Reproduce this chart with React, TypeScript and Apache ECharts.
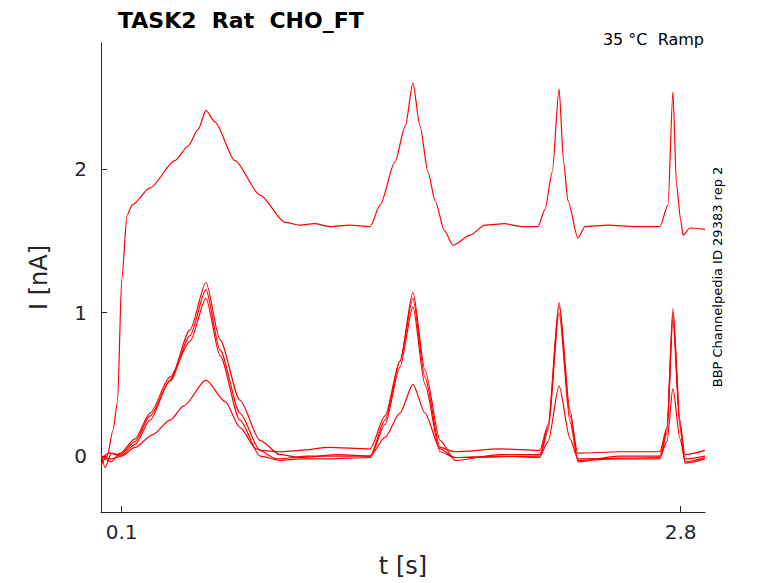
import { useEffect, useRef } from 'react';
import * as echarts from 'echarts';

const xTicks = [0.1, 2.8];
const yTicks = [0, 1, 2];

// [t (s), I (nA)]
const traceTop: [number, number][] = [
  [0, -0.06], [0.03, 0.0], [0.058, 0.18], [0.08, 0.38], [0.1, 1.23], [0.126, 1.68], [0.15, 1.75],
  [0.237, 1.87], [0.357, 2.06], [0.42, 2.16], [0.47, 2.28], [0.507, 2.41], [0.55, 2.33], [0.647, 2.06],
  [0.768, 1.82], [0.889, 1.63], [0.961, 1.61], [1.03, 1.62], [1.106, 1.6], [1.2, 1.61], [1.3, 1.6],
  [1.348, 1.75], [1.42, 2.05], [1.47, 2.3], [1.507, 2.6], [1.541, 2.3], [1.58, 1.98], [1.614, 1.78], [1.66, 1.57], [1.7, 1.47],
  [1.783, 1.54], [1.855, 1.61], [1.95, 1.62], [2.03, 1.6], [2.111, 1.6], [2.145, 1.72], [2.18, 1.98],
  [2.213, 2.56], [2.235, 2.05], [2.256, 1.78], [2.304, 1.52], [2.338, 1.6], [2.45, 1.61], [2.58, 1.6],
  [2.7, 1.6], [2.739, 1.75], [2.763, 2.54], [2.78, 1.9], [2.8, 1.65], [2.812, 1.54], [2.845, 1.59], [2.918, 1.58],
];
const traceA: [number, number][] = [
  [0, 0.03], [0.02, -0.08], [0.05, 0.02], [0.092, 0.0], [0.164, 0.08], [0.237, 0.25], [0.333, 0.53],
  [0.43, 0.88], [0.507, 1.21], [0.575, 0.81], [0.671, 0.39], [0.768, 0.11], [0.865, 0.01],
  [0.961, -0.01], [1.15, 0.01], [1.3, 0.0], [1.372, 0.25], [1.444, 0.66], [1.507, 1.14],
  [1.565, 0.6], [1.638, 0.11], [1.71, -0.03], [1.928, 0.01], [2.12, 0.01], [2.16, 0.2],
  [2.213, 1.07], [2.266, 0.32], [2.304, -0.04], [2.5, 0.0], [2.7, 0.0], [2.734, 0.18],
  [2.763, 1.03], [2.797, 0.25], [2.821, -0.04], [2.918, -0.01],
];
const traceB: [number, number][] = [
  [0, -0.02], [0.04, 0.02], [0.092, 0.01], [0.164, 0.1], [0.237, 0.28], [0.333, 0.52],
  [0.43, 0.84], [0.507, 1.16], [0.575, 0.74], [0.671, 0.3], [0.768, 0.04], [0.865, 0.03],
  [0.961, 0.04], [1.1, 0.06], [1.3, 0.05], [1.372, 0.28], [1.444, 0.66], [1.507, 1.1],
  [1.565, 0.55], [1.638, 0.06], [1.71, 0.03], [1.928, 0.05], [2.12, 0.04], [2.16, 0.22],
  [2.213, 1.05], [2.266, 0.28], [2.304, 0.02], [2.5, 0.03], [2.7, 0.03], [2.734, 0.2],
  [2.763, 1.0], [2.797, 0.22], [2.821, 0.01], [2.918, 0.04],
];
const traceC: [number, number][] = [
  [0, 0.0], [0.05, -0.04], [0.092, 0.02], [0.164, 0.12], [0.237, 0.3], [0.333, 0.55],
  [0.43, 0.8], [0.507, 1.1], [0.575, 0.7], [0.671, 0.25], [0.768, 0.0], [0.865, -0.03],
  [0.961, -0.02], [1.1, -0.02], [1.3, -0.01], [1.372, 0.22], [1.444, 0.62], [1.507, 1.04],
  [1.565, 0.5], [1.638, 0.03], [1.71, -0.01], [1.928, 0.0], [2.12, -0.01], [2.16, 0.18],
  [2.213, 1.0], [2.266, 0.24], [2.304, -0.03], [2.5, -0.02], [2.7, -0.02], [2.734, 0.16],
  [2.763, 0.95], [2.797, 0.2], [2.821, -0.05], [2.918, -0.02],
];
const traceD: [number, number][] = [
  [0, 0.0], [0.05, -0.02], [0.1, 0.0], [0.164, 0.06], [0.25, 0.15], [0.333, 0.25], [0.4, 0.35],
  [0.507, 0.53], [0.6, 0.38], [0.671, 0.2], [0.75, 0.05], [0.85, -0.02], [1.0, 0.0],
  [1.3, 0.0], [1.372, 0.13], [1.444, 0.3], [1.507, 0.5], [1.565, 0.3], [1.638, 0.05],
  [1.71, -0.01], [2.12, 0.0], [2.16, 0.1], [2.213, 0.49], [2.266, 0.12], [2.304, -0.02],
  [2.7, -0.01], [2.734, 0.1], [2.763, 0.47], [2.797, 0.12], [2.821, -0.02], [2.918, 0.0],
];
const traces = [traceTop, traceA, traceB, traceC, traceD];

export default function App() {
  const ref = useRef<HTMLDivElement>(null);
  useEffect(() => {
    document.body.style.margin = '0';
    if (!ref.current) return;
    const chart = echarts.init(ref.current, undefined, { renderer: 'svg' });
    const axisColor = '#262626';
    chart.setOption({
      animation: false,
      textStyle: { fontFamily: 'DejaVu Sans' },
      grid: { left: 101, right: 73, top: 43, bottom: 71 },
      title: {
        text: 'TASK2  Rat  CHO_FT',
        left: 113, top: 4,
        textStyle: { fontSize: 22, fontWeight: 'bold', color: '#000', fontFamily: 'DejaVu Sans' },
      },
      graphic: [
        { type: 'text', right: 74, top: 31, style: { text: '35 °C  Ramp', fontSize: 16, fill: '#000', fontFamily: 'DejaVu Sans' } },
        {
          type: 'text', x: 724, y: 277, rotation: Math.PI / 2,
          style: { text: 'BBP Channelpedia ID 29383 rep 2', fontSize: 13, fill: '#000', align: 'center', verticalAlign: 'bottom', fontFamily: 'DejaVu Sans' },
        },
      ],
      xAxis: {
        type: 'value', min: 0, max: 2.918,
        name: 't [s]', nameLocation: 'middle', nameGap: 42,
        nameTextStyle: { fontSize: 24, color: axisColor },
        axisLine: { onZero: false, lineStyle: { color: axisColor } },
        axisTick: { inside: true, length: 6, customValues: xTicks, lineStyle: { color: axisColor } },
        axisLabel: { customValues: xTicks, fontSize: 20, color: axisColor, margin: 10 },
        splitLine: { show: false },
      },
      yAxis: {
        type: 'value', min: -0.39, max: 2.88,
        name: 'I [nA]', nameLocation: 'middle', nameGap: 50,
        nameTextStyle: { fontSize: 24, color: axisColor },
        axisLine: { show: true, onZero: false, lineStyle: { color: axisColor } },
        axisTick: { show: true, inside: true, length: 6, customValues: yTicks, lineStyle: { color: axisColor } },
        axisLabel: { customValues: yTicks, fontSize: 20, color: axisColor, margin: 14 },
        splitLine: { show: false },
      },
      series: traces.map((d) => ({
        type: 'line', data: d, showSymbol: false, clip: true,
        smooth: 0.25, smoothMonotone: 'x',
        lineStyle: { color: '#ff0000', width: 1.2 },
      })),
    });
    return () => chart.dispose();
  }, []);
  return <div ref={ref} style={{ width: 778, height: 583 }} />;
}
